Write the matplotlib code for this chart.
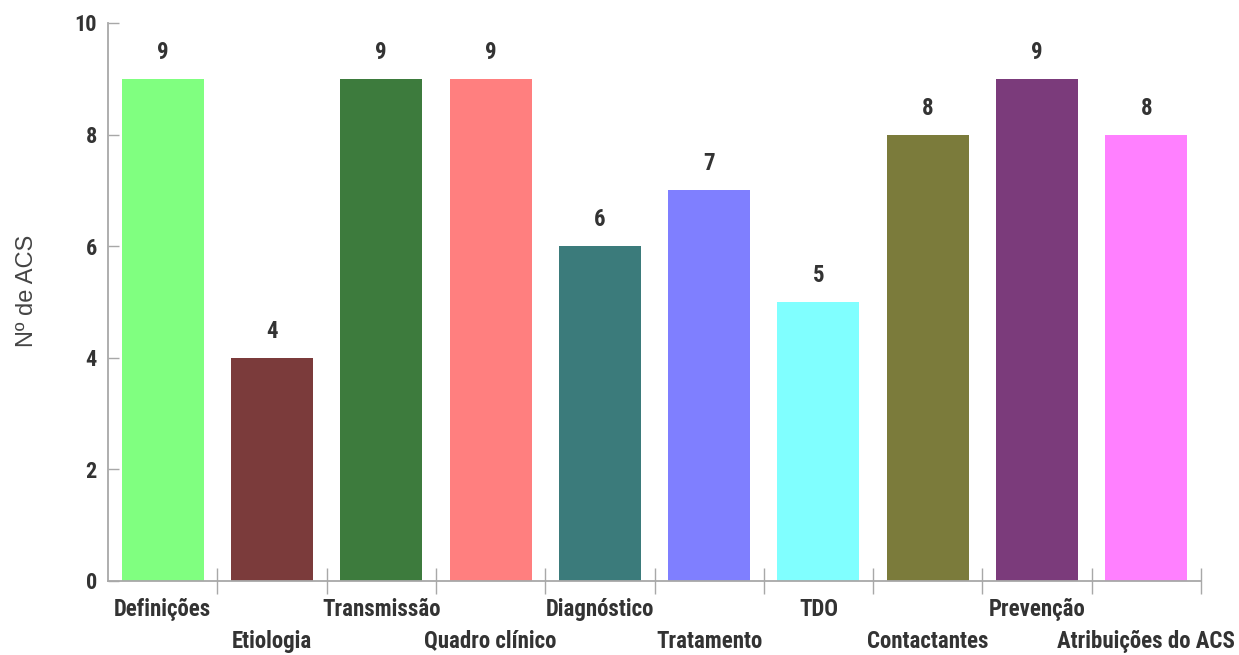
import numpy as np
import matplotlib.pyplot as plt

# topics covered and number of ACS per topic
categories = ["Definições", "Etiologia", "Transmissão", "Quadro clínico", "Diagnóstico",
              "Tratamento", "TDO", "Contactantes", "Prevenção", "Atribuições do ACS"]
counts = [9, 4, 9, 9, 6, 7, 5, 8, 9, 8]
colors = ["#80ff80", "#7b3b3b", "#3d7b3d", "#ff7f7f", "#3b7b7b",
          "#7f7fff", "#80ffff", "#7b7b3b", "#7b3b7b", "#ff80ff"]
yticks = [0, 2, 4, 6, 8, 10]

narrow = ["Roboto Condensed", "DejaVu Sans"]
axis_gray = "#a8a8a8"
text_gray = "#333333"

fig = plt.figure(figsize=(12.39, 6.55), dpi=100)
ax = fig.add_axes([0.0872, 0.1130, 0.8821, 0.8519])

x = np.arange(len(categories))
ax.bar(x, counts, width=0.75, color=colors)

for xi, v in zip(x, counts):
    ax.text(xi, v + 0.27, str(v), ha="center", va="bottom", fontsize=16.5,
            family=narrow, fontweight="bold", color=text_gray)

ax.set_xlim(-0.5, len(categories) - 0.5)
ax.set_ylim(0, 10)

for side in ["top", "right"]:
    ax.spines[side].set_visible(False)
for side in ["left", "bottom"]:
    ax.spines[side].set_color(axis_gray)
    ax.spines[side].set_linewidth(1.3)

# y axis
ax.set_yticks(yticks)
ax.set_yticklabels([str(t) for t in yticks], family=narrow, fontweight="bold",
                   fontsize=16, color=text_gray)
ax.tick_params(axis="y", direction="in", length=8, width=1, color=axis_gray, pad=8)
ax.set_ylabel("Nº de ACS", fontsize=17, color="#444444", family="Liberation Sans")
ax.yaxis.set_label_coords(-0.064, 0.52)

# x axis: labels at bar centres, separator ticks between categories
ax.set_xticks(x)
ax.set_xticklabels(categories, family=narrow, fontweight="bold", fontsize=16.5,
                   color=text_gray)
ax.tick_params(axis="x", which="major", length=0)
for i, tick in enumerate(ax.xaxis.get_major_ticks()):
    tick.set_pad(12 if i % 2 == 0 else 35)
ax.set_xticks(np.arange(len(categories)) + 0.5, minor=True)
ax.tick_params(axis="x", which="minor", direction="inout", length=19, width=1,
               color=axis_gray)

fig.savefig("out.png", dpi=100)
